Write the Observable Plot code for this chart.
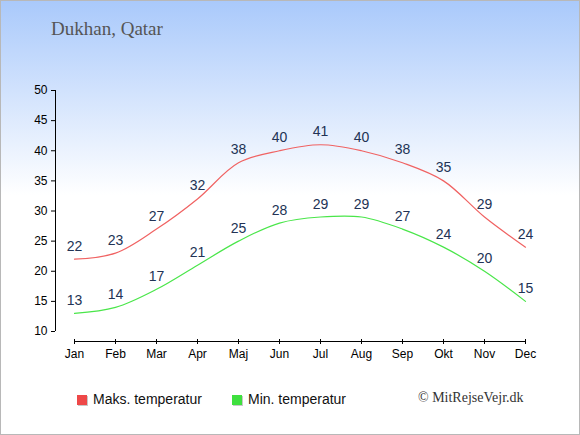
<!DOCTYPE html>
<html>
<head>
<meta charset="utf-8">
<script src="https://cdn.jsdelivr.net/npm/d3@7"></script>
<script src="https://cdn.jsdelivr.net/npm/@observablehq/plot@0.6"></script>
<style>
  html, body { margin: 0; padding: 0; background: #fff; }
  #chart {
    position: relative; width: 580px; height: 435px;
    background: linear-gradient(to bottom, #a9c9fb 0px, #ffffff 195px, #ffffff 435px);
    overflow: hidden;
  }
  #chart svg { position: absolute; left: 0; top: 0; overflow: visible; }
  #border { position: absolute; left: 0; top: 0; width: 580px; height: 435px; box-sizing: border-box; border: 1px solid #b8b8b8; pointer-events: none; }
  .title { position: absolute; left: 51px; top: 18px; font-family: "Liberation Serif", serif; font-size: 19px; color: #555; white-space: nowrap; }
  .leg { position: absolute; top: 389px; font-family: "Liberation Sans", Arial, sans-serif; font-size: 14px; color: #111; white-space: nowrap; line-height: 20px; }
  .sw { display: inline-block; width: 10px; height: 10px; vertical-align: -1px; margin-right: 6px; box-shadow: 1px 1px 0 #c8c8c8; }
  .copy { position: absolute; left: 418px; top: 388px; font-family: "Liberation Serif", serif; font-size: 14px; color: #333; white-space: nowrap; line-height: 20px; }
</style>
</head>
<body>
<div id="chart">
  <div class="title">Dukhan, Qatar</div>
  <div class="leg" style="left:77px"><span class="sw" style="background:#ee4848"></span>Maks. temperatur</div>
  <div class="leg" style="left:232px"><span class="sw" style="background:#3ee03e"></span>Min. temperatur</div>
  <div class="copy">© MitRejseVejr.dk</div>
  <div id="border"></div>
</div>
<script>
const months = ["Jan","Feb","Mar","Apr","Maj","Jun","Jul","Aug","Sep","Okt","Nov","Dec"];
const maxTemp = [22,23,27,32,38,40,41,40,38,35,29,24];
const minTemp = [13,14,17,21,25,28,29,29,27,24,20,15];
const yTicks = [10,15,20,25,30,35,40,45,50];

const maxData = months.map((m, i) => ({month: m, value: maxTemp[i]}));
const minData = months.map((m, i) => ({month: m, value: minTemp[i]}));

const labelColor = "#223355";

const plot = Plot.plot({
  width: 580,
  height: 435,
  marginTop: 90,
  marginBottom: 94,
  marginLeft: 74,
  marginRight: 55,
  style: {background: "transparent", fontFamily: "'Liberation Sans', Arial, sans-serif", fontSize: "12px", color: "#000"},
  x: {type: "point", domain: months, range: [74, 525], padding: 0, label: null},
  y: {domain: [10, 50], range: [331, 90], label: null},
  marks: [
    Plot.frame({anchor: "bottom", stroke: "#000"}),
    Plot.ruleX([months[0]], {y1: () => yTicks[0], y2: () => yTicks[yTicks.length - 1], dx: -19, stroke: "#000"}),
    Plot.axisY({anchor: "left", ticks: yTicks, tickSize: 4, tickPadding: 4, dx: -19, tickFormat: d => String(d), fontSize: 12, fill: "#000", label: null}),
    Plot.axisX({anchor: "bottom", tickSize: 5, tickPadding: 5, dy: -2, fontSize: 12, fill: "#000", label: null}),
    Plot.line(maxData, {x: "month", y: "value", stroke: "#f06262", strokeWidth: 1.2, curve: "catmull-rom"}),
    Plot.line(minData, {x: "month", y: "value", stroke: "#4ae64a", strokeWidth: 1.2, curve: "catmull-rom"}),
    Plot.text(maxData, {x: "month", y: "value", text: d => String(d.value), dy: -13, fontSize: 14, fill: labelColor}),
    Plot.text(minData, {x: "month", y: "value", text: d => String(d.value), dy: -13, fontSize: 14, fill: labelColor})
  ]
});
document.getElementById("chart").insertBefore(plot, document.getElementById("border"));
</script>
</body>
</html>
